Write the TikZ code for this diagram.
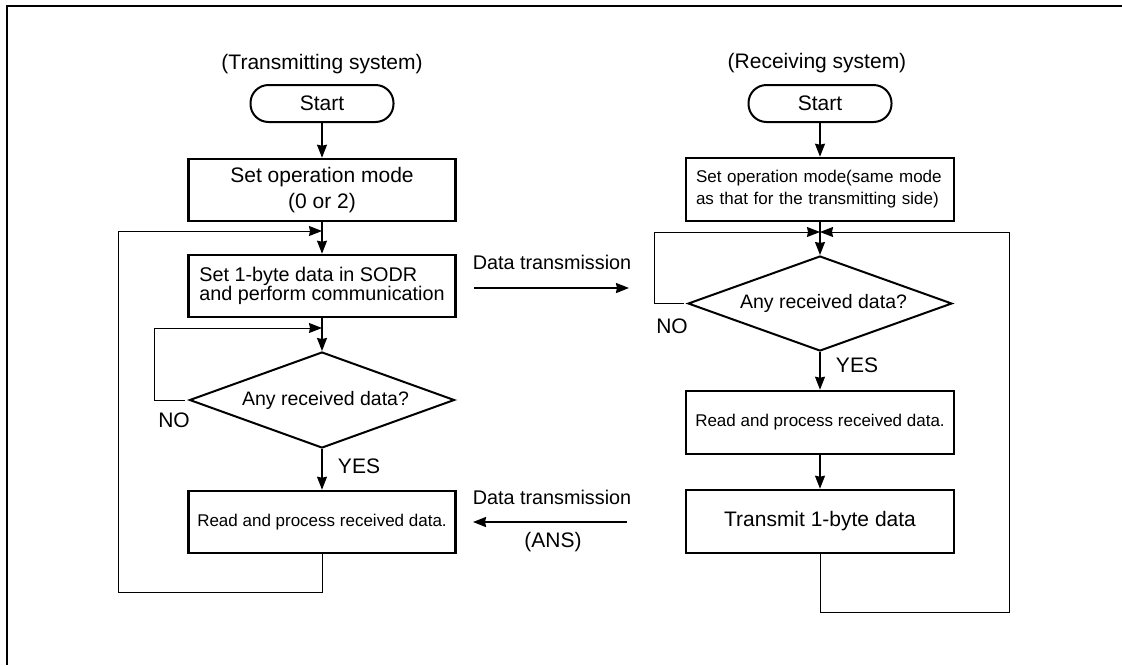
\documentclass[tikz,border=0pt]{standalone}
\usepackage{fontspec}
\setmainfont{Liberation Sans}
\usetikzlibrary{arrows.meta,shapes.geometric}
\begin{document}
\begin{tikzpicture}[x=1pt,y=-1pt,
  every node/.style={inner sep=0pt},
  big/.style={font=\fontsize{21}{26}\selectfont},
  mid/.style={font=\fontsize{19.8}{17.7}\selectfont},
  small/.style={font=\fontsize{17}{22}\selectfont},
  term/.style={draw,line width=2pt,rounded corners=18pt,minimum width=143pt,minimum height=37pt,big},
  proc/.style={draw,line width=2.6pt,minimum width=267pt,minimum height=62pt},
  dec/.style={draw,diamond,shape aspect=2.76,line width=2pt,minimum width=265pt,minimum height=96pt,font=\fontsize{19.5}{24}\selectfont},
  tip/.style={-{Stealth[length=13pt,width=10pt,inset=1pt]}},
  flow/.style={line width=1.4pt,tip},
  xfer/.style={line width=1.9pt,tip},
  loopline/.style={line width=1pt,tip},
]
\useasboundingbox (0,0) rectangle (1122,665);
\draw[line width=2pt] (1122,6) -| (7,665);

% titles
\node[big] (ltitle) at (322,64) {(Transmitting system)};
\node[big] (rtitle) at (817,63) {(Receiving system)};

% left column
\node[term] (lstart) at (322,103.5) {Start};
\node[proc,big,align=center] (lmode) at (322,190) {Set operation mode\\(0 or 2)};
\node[proc,mid,align=left] (lsend) at (322,286) {Set 1-byte data in SODR\\and perform communication};
\node[dec] (ldec) at (322,400) {\hspace*{7pt}Any received data?};
\node[proc,small] (lread) at (322,522) {Read and process received data.};
\coordinate (lj1) at (322,231);
\coordinate (lj2) at (322,328);

\draw[flow] (lstart) -- (lmode);
\draw[flow] (lmode) -- (lsend);
\draw[flow] (lsend) -- (ldec);
\draw[flow] (ldec) -- (lread);
\draw[loopline] ([xshift=-4pt]ldec.west) -- (154,400) |- (lj2);
\draw[loopline] (lread.south) |- (118,592) |- (lj1);
\node[big] (lno) at (174,420) {NO};
\node[big] (lyes) at (359,466) {YES};

% right column
\node[term] (rstart) at (820,103.5) {Start};
\node[proc,small,text width=248pt,align=left,minimum width=268pt,minimum height=63pt] (rmode) at (820,189.5) {Set operation mode(same mode\\as that for the transmitting side)};
\node[dec,minimum width=264pt,minimum height=95pt] (rdec) at (820,303.5) {\hspace*{7pt}Any received data?};
\node[proc,small,minimum width=268pt,minimum height=63pt] (rread) at (820,422.5) {Read and process received data.};
\node[proc,big,minimum width=268pt,minimum height=63pt] (rsend) at (820,521.5) {Transmit 1-byte data};
\coordinate (rj1) at (820,232);

\draw[flow] (rstart) -- (rmode);
\draw[flow] (rmode) -- (rdec);
\draw[flow] (rdec) -- (rread);
\draw[flow] (rread) -- (rsend);
\draw[loopline] ([xshift=-3pt]rdec.west) -- (654,303.5) |- (rj1);
\draw[loopline] (rsend.south) |- (1009,612) |- (rj1);
\node[big] (rno) at (672,326) {NO};
\node[big] (ryes) at (857,365) {YES};

% transfers
\coordinate (ta) at (474,288);
\coordinate (tb) at (629,288);
\draw[xfer] (ta) -- (tb);
\node[mid] (tl) at (552,262) {Data transmission};
\coordinate (ba) at (627,522);
\coordinate (bb) at (473,522);
\draw[xfer] (ba) -- (bb);
\node[mid] (bl) at (552,497) {Data transmission};
\node[big] (ans) at (553,542) {(ANS)};
\end{tikzpicture}
\end{document}
